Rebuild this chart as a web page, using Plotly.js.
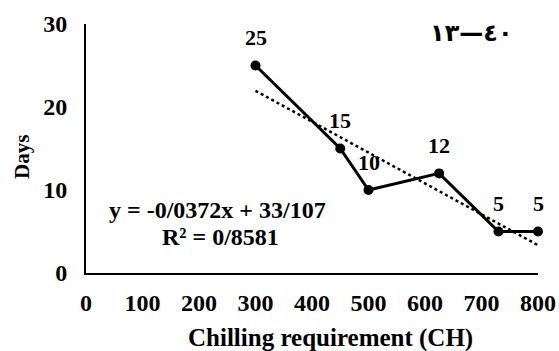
<!DOCTYPE html>
<html>
<head>
<meta charset="utf-8">
<script src="https://cdn.plot.ly/plotly-3.0.1.min.js"></script>
<style>html,body{margin:0;padding:0;background:#fff;}#chart{width:559px;height:351px;}</style>
</head>
<body>
<div id="chart"></div>
<script>
// Data
const chillHours = [300, 450, 500, 625, 730, 800];
const days = [25, 15, 10, 12, 5, 5];
const dayLabels = ['25', '15', '10', '12', '5', '5'];
const xTickVals = [0, 100, 200, 300, 400, 500, 600, 700, 800];
const yTickVals = [0, 10, 20, 30];
const equationLine1 = 'y = -0/0372x + 33/107';
const equationLine2 = 'R² = 0/8581';
const cornerText = '\u202D١٣—٤٠\u202C';
const xTitle = 'Chilling requirement (CH)';
const yTitle = 'Days';

// Linear least-squares trendline (as drawn by the spreadsheet)
const n = chillHours.length;
const mx = chillHours.reduce((a, b) => a + b, 0) / n;
const my = days.reduce((a, b) => a + b, 0) / n;
let sxy = 0, sxx = 0;
for (let i = 0; i < n; i++) { sxy += (chillHours[i] - mx) * (days[i] - my); sxx += (chillHours[i] - mx) ** 2; }
const slope = sxy / sxx, intercept = my - slope * mx;
const trendX = [Math.min(...chillHours), Math.max(...chillHours)];
const trendY = trendX.map(x => intercept + slope * x);

const serif = 'Liberation Serif, Times New Roman, serif';
const boldFont = (size) => ({ family: serif, size: size, color: '#000', weight: 700 });

const traces = [
  { x: trendX, y: trendY, type: 'scatter', mode: 'lines',
    line: { color: '#000', width: 2.5, dash: 'dot' }, hoverinfo: 'skip' },
  { x: chillHours, y: days, type: 'scatter', mode: 'lines+markers', cliponaxis: false,
    line: { color: '#000', width: 3 },
    marker: { color: '#000', size: 10 } }
];

const labelAnnotations = chillHours.map((x, i) => ({
  x: x, y: days[i], xref: 'x', yref: 'y', text: dayLabels[i], showarrow: false,
  xanchor: 'center', yanchor: 'middle', yshift: 28, font: boldFont(22)
}));

// plot area in pixels: x 86..538, y 24..273
const px = (p) => (p - 86) / 452;
const py = (p) => (273 - p) / 249;

const layout = {
  width: 559, height: 351,
  margin: { l: 86, r: 21, t: 24, b: 78 },
  paper_bgcolor: '#fff', plot_bgcolor: '#fff',
  showlegend: false,
  xaxis: {
    range: [0, 800], tickvals: xTickVals, showgrid: false, zeroline: false,
    showline: true, linecolor: '#000', linewidth: 2, ticks: '',
    ticklabelstandoff: 7, tickfont: boldFont(24)
  },
  yaxis: {
    range: [0, 30], tickvals: yTickVals, showgrid: false, zeroline: false,
    showline: true, linecolor: '#000', linewidth: 2, ticks: '',
    ticklabelstandoff: 12, tickfont: boldFont(24)
  },
  annotations: labelAnnotations.concat([
    { text: xTitle, xref: 'paper', yref: 'paper', x: px(330), y: py(338),
      xanchor: 'center', yanchor: 'middle', showarrow: false, font: boldFont(25) },
    { text: yTitle, xref: 'paper', yref: 'paper', x: px(22), y: py(157), textangle: -90,
      xanchor: 'center', yanchor: 'middle', showarrow: false, font: boldFont(21) },
    { text: equationLine1, xref: 'paper', yref: 'paper', x: px(217), y: py(210),
      xanchor: 'center', yanchor: 'middle', showarrow: false, font: boldFont(24) },
    { text: equationLine2, xref: 'paper', yref: 'paper', x: px(220), y: py(237),
      xanchor: 'center', yanchor: 'middle', showarrow: false, font: boldFont(24) },
    { text: cornerText, xref: 'paper', yref: 'paper', x: px(471), y: py(33),
      xanchor: 'center', yanchor: 'middle', showarrow: false,
      font: { family: 'DejaVu Sans', size: 24, color: '#000', weight: 700 } }
  ])
};

Plotly.newPlot('chart', traces, layout, { displayModeBar: false, staticPlot: true });
</script>
</body>
</html>
